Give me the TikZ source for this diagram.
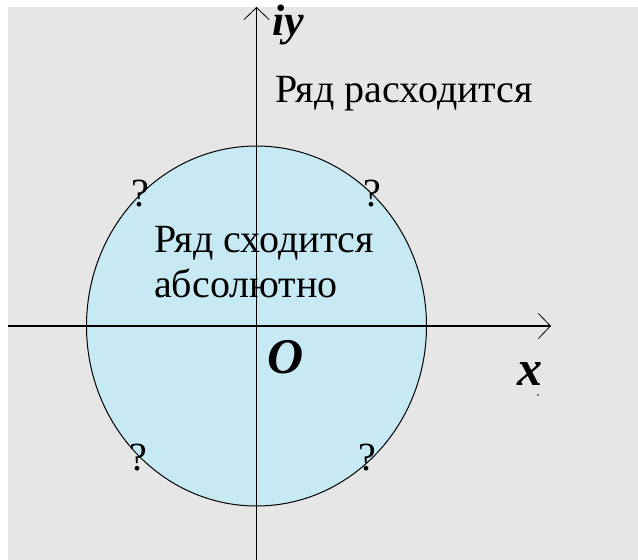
\documentclass[tikz,border=0pt]{standalone}
\usepackage{fontspec}
\setmainfont{Liberation Serif}
\usepackage{xcolor}
\usepackage{tikz}
\usetikzlibrary{arrows.meta}
\definecolor{PlaneGray}{HTML}{E6E6E6}
\definecolor{DiscBlue}{HTML}{C6E9F3}
\tikzset{
  cplabel/.style={inner sep=0pt, anchor=base west, font=\fontsize{40}{46}\selectfont},
  cpvar/.style={inner sep=0pt, anchor=base west, font=\fontsize{50}{56}\selectfont\bfseries\itshape},
  cpmark/.style={inner sep=0pt, font=\fontsize{40}{44}\selectfont},
  cpaxis/.style={line width=1.3pt, -{Straight Barb[length=12pt,width=25pt,line width=0.8pt]}}
}
\begin{document}
\begin{tikzpicture}[x=1pt,y=-1pt]
  \useasboundingbox (0,0) rectangle (638,560);
  \fill[white] (0,0) rectangle (638,560);
  \fill[PlaneGray] (8,7) rectangle (638,560);
  % disc of absolute convergence
  \coordinate (O) at (256.5,326);
  \filldraw[fill=DiscBlue, draw=black, line width=1pt] (O) ellipse [x radius=170pt, y radius=180pt];
  % axes
  \coordinate (xl) at (8,326);
  \coordinate (xr) at (551,326);
  \coordinate (yb) at (256.5,560);
  \coordinate (yt) at (256.5,7);
  \draw[cpaxis] (xl) -- (xr);
  \draw[cpaxis] (yb) -- (yt);
  % labels
  \node[cpvar, font=\fontsize{44}{48}\selectfont\bfseries\itshape] (iy) at (272,35) {iy};
  \node[cpvar] (orig) at (267,373) {O};
  \node[cpvar] (xlab) at (517,385) {x};
  \fill (538,395) circle (0.8pt);
  \node[cplabel] (div) at (275,102.7) {Ряд расходится};
  \node[cplabel] (conv) at (154,252) {Ряд сходится};
  \node[cplabel] (abs) at (154,297) {абсолютно};
  \node[cpmark] (q1) at (140,194) {?};
  \node[cpmark] (q2) at (372,194) {?};
  \node[cpmark] (q3) at (138,458) {?};
  \node[cpmark] (q4) at (367,458) {?};
\end{tikzpicture}
\end{document}
